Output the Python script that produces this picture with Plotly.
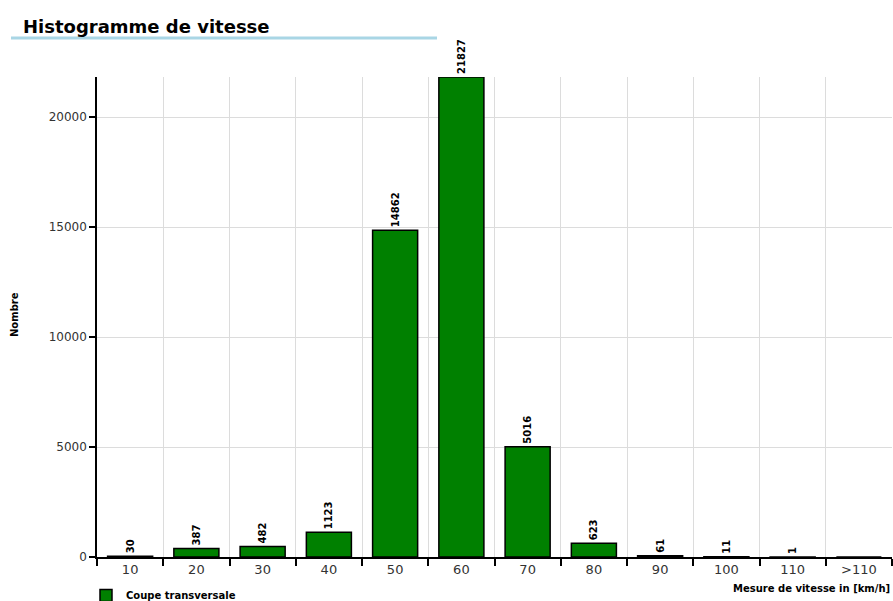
import plotly.graph_objects as go

categories = ["10", "20", "30", "40", "50", "60", "70", "80", "90", "100", "110", ">110"]
counts = [30, 387, 482, 1123, 14862, 21827, 5016, 623, 61, 11, 1, 0]
labels = ["30", "387", "482", "1123", "14862", "21827", "5016", "623", "61", "11", "1", ""]
series_name = "Coupe transversale"

W, H = 893, 601
L, R, T, B = 97, 1, 77, 44
pw = W - L - R
ph = H - T - B

def px_x(x):
    return (x - L) / pw

def px_y(y):
    return (H - B - y) / ph

fig = go.Figure()
fig.add_trace(go.Bar(
    x=categories, y=counts, name=series_name,
    marker=dict(color="#008000", line=dict(color="black", width=1.5)),
    text=labels, textposition="outside", textangle=-90,
    textfont=dict(family="DejaVu Sans", size=10, color="black", weight="bold"),
    cliponaxis=False, showlegend=True,
))

fig.update_layout(
    width=W, height=H,
    margin=dict(l=L, r=R, t=T, b=B, autoexpand=False),
    plot_bgcolor="white", paper_bgcolor="white",
    font=dict(family="DejaVu Sans", color="#333"),
    bargap=0.32,
    title=dict(text="<b>Histogramme de vitesse</b>", x=23 / W, xref="container", xanchor="left",
               y=1 - 27 / H, yref="container", yanchor="middle",
               font=dict(family="DejaVu Sans", size=18, color="black")),
    showlegend=True,
    legend=dict(x=px_x(86), xanchor="left", y=px_y(581), yanchor="top", orientation="h",
                font=dict(family="DejaVu Sans", size=10, color="black", weight="bold"),
                bgcolor="rgba(0,0,0,0)"),
    xaxis=dict(type="category", tickson="boundaries", ticks="outside", ticklen=7, tickcolor="black",
               tickwidth=1.5, showline=True, linecolor="black", linewidth=1.5, showgrid=True,
               gridcolor="#dcdcdc", tickfont=dict(size=13, color="#333"), automargin=False),
    yaxis=dict(range=[0, 21827], tickvals=[0, 5000, 10000, 15000, 20000], tickformat="d",
               ticks="outside", ticklen=6, automargin=False,
               tickcolor="black", tickwidth=1.5, showline=True, linecolor="black", linewidth=1.5,
               showgrid=True, gridcolor="#dcdcdc", zeroline=False, tickfont=dict(size=12, color="#333")),
    shapes=[dict(type="line", xref="paper", yref="paper", x0=px_x(11), x1=px_x(437),
                 y0=px_y(38), y1=px_y(38), line=dict(color="#a9d6e5", width=3))],
    annotations=[
        dict(text="<b>Mesure de vitesse in [km/h]</b>", xref="paper", yref="paper", x=1, y=px_y(588),
             xanchor="right", yanchor="middle", showarrow=False,
             font=dict(family="DejaVu Sans", size=10, color="black")),
        dict(text="<b>Nombre</b>", xref="paper", yref="paper", x=px_x(14), y=px_y(315),
             xanchor="center", yanchor="middle", textangle=-90, showarrow=False,
             font=dict(family="DejaVu Sans", size=10, color="black")),
    ],
)

fig.write_html("out.html", config={"displayModeBar": False},
               post_script="document.body.style.margin='0';document.body.style.overflow='hidden';")
